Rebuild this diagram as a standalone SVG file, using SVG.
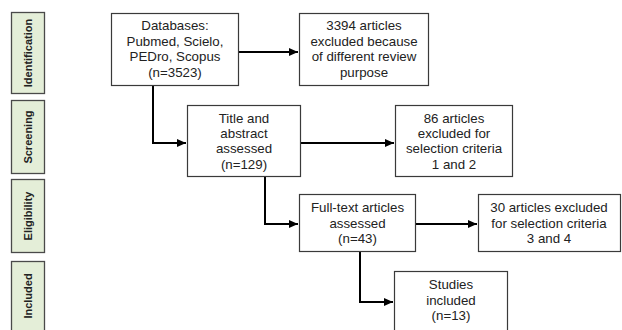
<svg xmlns="http://www.w3.org/2000/svg" width="622" height="330" viewBox="0 0 622 330">
<style>
.bx{fill:#fff;stroke:#3a3a3a;stroke-width:1.2}
.ph{fill:#e4eed8;stroke:#4a4a4a;stroke-width:1.3}
.t{font-family:"Liberation Sans",Arial,sans-serif;font-size:13.3px;fill:#222;text-anchor:middle}
.pl{font-family:"Liberation Sans",Arial,sans-serif;font-size:11px;font-weight:bold;fill:#222;text-anchor:middle}
.c{fill:none;stroke:#000;stroke-width:2}
</style>
<defs>
<marker id="ah" markerUnits="userSpaceOnUse" markerWidth="10" markerHeight="10" refX="9" refY="5" orient="auto">
<path d="M0,1 L9,5 L0,9 Z" fill="#000"/>
</marker>
</defs>
<rect width="622" height="330" fill="#fff"/>
<g id="phase-identification"><rect class="ph" x="11.5" y="12.5" width="33" height="81"/><text class="pl" transform="translate(32,53) rotate(-90)">Identification</text></g>
<g id="phase-screening"><rect class="ph" x="11.5" y="100.5" width="33" height="73"/><text class="pl" transform="translate(32,137) rotate(-90)">Screening</text></g>
<g id="phase-eligibility"><rect class="ph" x="11.5" y="179.5" width="33" height="73"/><text class="pl" transform="translate(32,216) rotate(-90)">Eligibility</text></g>
<g id="phase-included"><rect class="ph" x="11.5" y="261.5" width="33" height="72"/><text class="pl" transform="translate(32,296) rotate(-90)">Included</text></g>

<g id="connectors">
<path class="c" d="M239,52 H298" marker-end="url(#ah)"/>
<path class="c" d="M153,85 V143 H186" marker-end="url(#ah)"/>
<path class="c" d="M301,143 H394" marker-end="url(#ah)"/>
<path class="c" d="M265,177 V224 H298" marker-end="url(#ah)"/>
<path class="c" d="M416,224 H477" marker-end="url(#ah)"/>
<path class="c" d="M360,252 V302 H393" marker-end="url(#ah)"/>
</g>

<g id="databases"><rect class="bx" x="111.5" y="13.5" width="127" height="72"/>
<text class="t" x="175" y="30">Databases:</text>
<text class="t" x="175" y="45.5">Pubmed, Scielo,</text>
<text class="t" x="175" y="61">PEDro, Scopus</text>
<text class="t" x="175" y="76.5">(n=3523)</text></g>

<g id="excluded-3394"><rect class="bx" x="299.5" y="13.5" width="129" height="72"/>
<text class="t" x="364" y="30">3394 articles</text>
<text class="t" x="364" y="45.5">excluded because</text>
<text class="t" x="364" y="61">of different review</text>
<text class="t" x="364" y="76.5">purpose</text></g>

<g id="title-abstract"><rect class="bx" x="187.5" y="105.5" width="113" height="71"/>
<text class="t" x="244" y="123">Title and</text>
<text class="t" x="244" y="138">abstract</text>
<text class="t" x="244" y="153">assessed</text>
<text class="t" x="244" y="168.5">(n=129)</text></g>

<g id="excluded-86"><rect class="bx" x="395.5" y="105.5" width="117" height="71"/>
<text class="t" x="454" y="123">86 articles</text>
<text class="t" x="454" y="138">excluded for</text>
<text class="t" x="454" y="153">selection criteria</text>
<text class="t" x="454" y="168.5">1 and 2</text></g>

<g id="full-text"><rect class="bx" x="299.5" y="194.5" width="116" height="57"/>
<text class="t" x="357.5" y="212">Full-text articles</text>
<text class="t" x="357.5" y="227.5">assessed</text>
<text class="t" x="357.5" y="243">(n=43)</text></g>

<g id="excluded-30"><rect class="bx" x="478.5" y="194.5" width="142" height="57"/>
<text class="t" x="549" y="212">30 articles excluded</text>
<text class="t" x="549" y="227.5">for selection criteria</text>
<text class="t" x="549" y="243">3 and 4</text></g>

<g id="studies-included"><rect class="bx" x="394.5" y="271.5" width="113" height="62"/>
<text class="t" x="451" y="289">Studies</text>
<text class="t" x="451" y="304.5">included</text>
<text class="t" x="451" y="320">(n=13)</text></g>
</svg>
